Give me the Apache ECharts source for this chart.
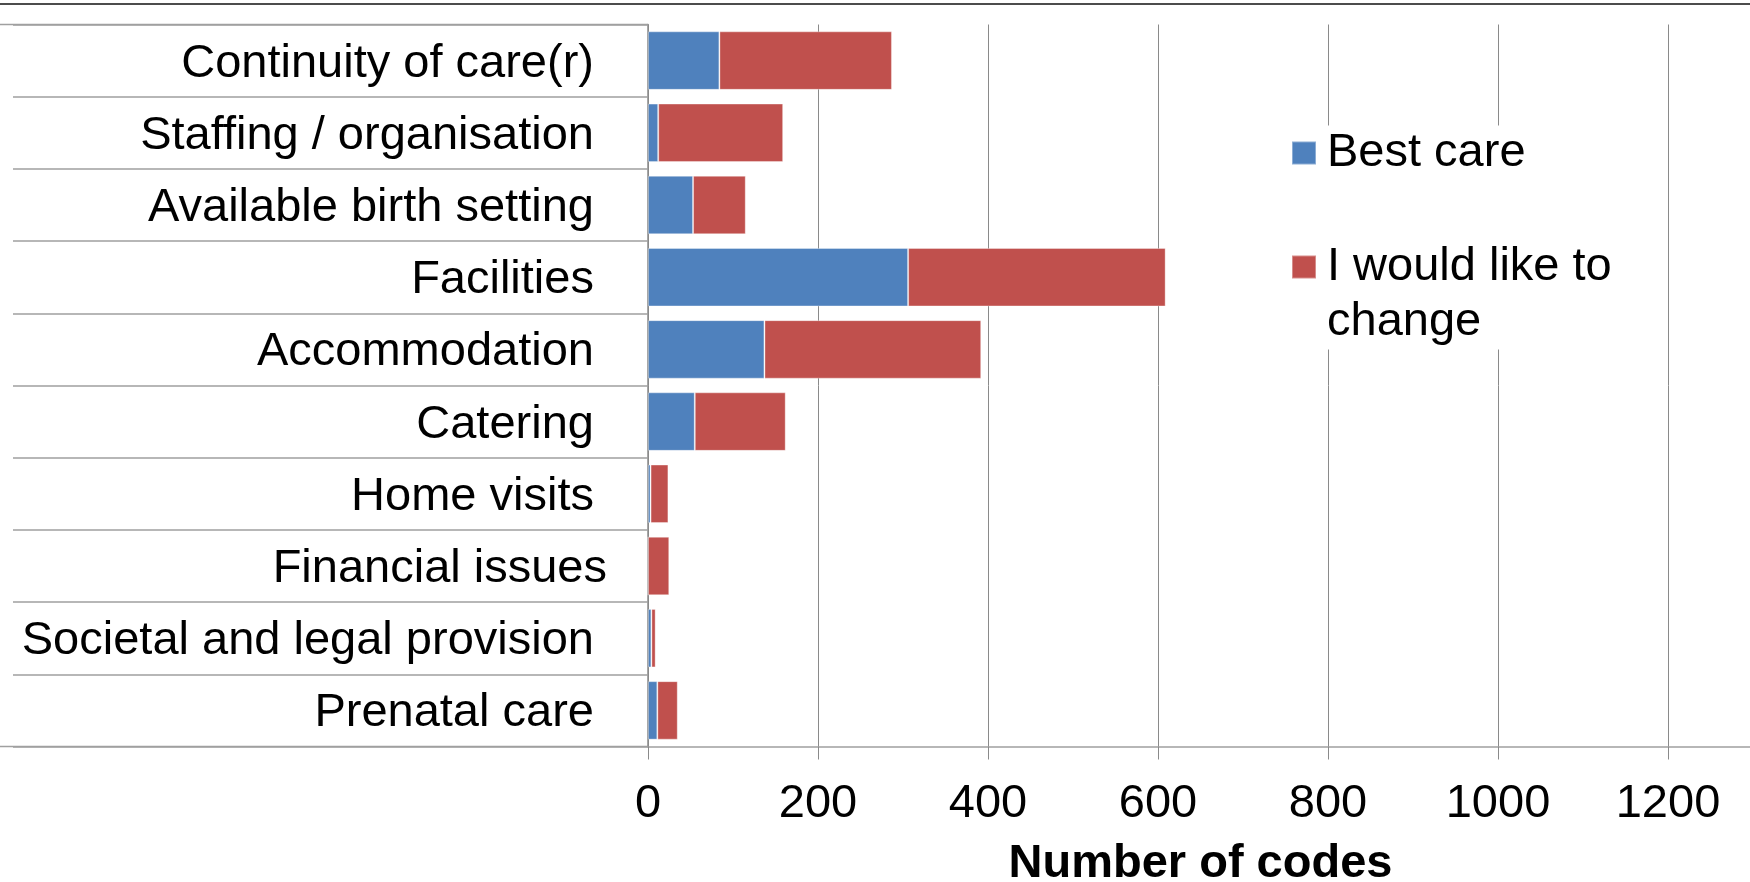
<!DOCTYPE html>
<html>
<head>
<meta charset="utf-8">
<script src="https://cdn.jsdelivr.net/npm/echarts@6/dist/echarts.min.js"></script>
<style>
html,body{margin:0;padding:0;background:#fff;}
#chart{width:1750px;height:882px;}
</style>
</head>
<body>
<div id="chart"></div>
<script>
// Categories, top to bottom (trailing spaces reproduce the original label alignment)
var categories = [
  'Continuity of care(r) ',
  'Staffing / organisation ',
  'Available birth setting ',
  'Facilities ',
  'Accommodation ',
  'Catering ',
  'Home visits ',
  'Financial issues',
  'Societal and legal provision ',
  'Prenatal care '
];
var bestCare     = [84, 12, 53, 306, 137, 55, 3, 0, 4, 11];
var likeToChange = [203, 147, 62, 303, 255, 107, 21, 25, 5, 24];
var xTicks = { min: 0, max: 1300, interval: 200 };

var FONT = "'Liberation Sans', Arial, sans-serif";
var chart = echarts.init(document.getElementById('chart'), null, { renderer: 'canvas' });

chart.setOption({
  backgroundColor: '#ffffff',
  animation: false,
  textStyle: { fontFamily: FONT },
  grid: { left: 648, top: 24.5, width: 1105, height: 722, containLabel: false, outerBoundsMode: 'none' },
  legend: {
    orient: 'vertical',
    left: 1291,
    top: 125.5,
    padding: 0,
    itemGap: 4,
    itemWidth: 24,
    itemHeight: 23,
    icon: 'rect',
    backgroundColor: '#ffffff',
    data: ['Best care', 'I would like to change'],
    formatter: function (name) {
      return name === 'Best care' ? name : ' \nI would like to\nchange';
    },
    textStyle: { fontSize: 47, lineHeight: 55, color: '#000', fontFamily: FONT, padding: [0, 0, 0, 6] }
  },
  xAxis: {
    type: 'value',
    min: xTicks.min,
    max: xTicks.max,
    interval: xTicks.interval,
    name: 'Number of codes',
    nameLocation: 'middle',
    nameGap: 94,
    nameTextStyle: { fontSize: 47, fontWeight: 'bold', color: '#000', fontFamily: FONT },
    axisLine: { show: true, lineStyle: { color: '#a0a0a0', width: 1.5 } },
    axisTick: { show: true, length: 13, lineStyle: { color: '#8a8a8a', width: 1 } },
    axisLabel: {
      fontSize: 47, color: '#000', margin: 34, showMaxLabel: false, fontFamily: FONT,
      formatter: function (v) { return String(v); }
    },
    splitLine: { show: true, lineStyle: { color: '#8a8a8a', width: 1 } }
  },
  yAxis: {
    type: 'category',
    inverse: true,
    data: categories,
    axisLine: { show: true, lineStyle: { color: '#8a8a8a', width: 1.5 } },
    axisTick: { show: true, length: 635, alignWithLabel: false, lineStyle: { color: '#a0a0a0', width: 1.5 } },
    axisLabel: {
      margin: 41,
      formatter: function (v) { return '{l|' + v + '}'; },
      rich: { l: { fontSize: 47, color: '#000', fontFamily: FONT, padding: [6, 0, 0, 0] } }
    }
  },
  graphic: [
    { type: 'line', silent: true, shape: { x1: 0, y1: 4, x2: 1750, y2: 4 }, style: { stroke: '#111', lineWidth: 1.5 } },
    { type: 'line', silent: true, shape: { x1: 0, y1: 24.5, x2: 648, y2: 24.5 }, style: { stroke: '#a0a0a0', lineWidth: 1.5 } },
    { type: 'line', silent: true, shape: { x1: 0, y1: 746.5, x2: 648, y2: 746.5 }, style: { stroke: '#a0a0a0', lineWidth: 1.5 } }
  ],
  series: [
    {
      name: 'Best care', type: 'bar', stack: 'total', barWidth: '81%',
      itemStyle: { color: '#4F81BD', borderColor: 'rgba(255,255,255,0.35)', borderWidth: 1 }, data: bestCare
    },
    {
      name: 'I would like to change', type: 'bar', stack: 'total', barWidth: '81%',
      itemStyle: { color: '#C0504D', borderColor: 'rgba(255,255,255,0.35)', borderWidth: 1 }, data: likeToChange
    }
  ]
});
</script>
</body>
</html>
